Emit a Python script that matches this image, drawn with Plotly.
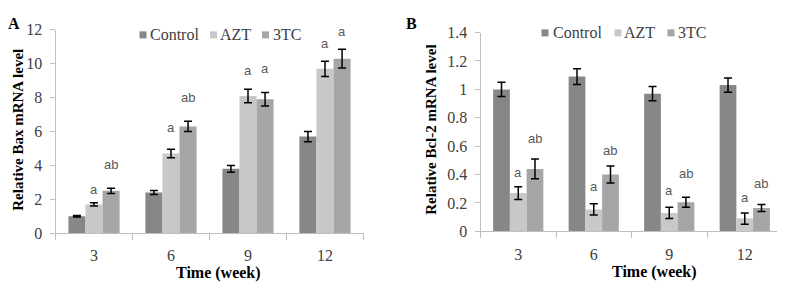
import plotly.graph_objects as go

weeks = ["3", "6", "9", "12"]
series = ["Control", "AZT", "3TC"]
colors = ["#878787", "#c8c8c8", "#a6a6a6"]

# Panel A: Bax
bax_control = [1.0, 2.4, 3.8, 5.7]
bax_control_err = [0.05, 0.12, 0.2, 0.3]
bax_azt = [1.7, 4.7, 8.1, 9.7]
bax_azt_err = [0.1, 0.25, 0.4, 0.45]
bax_3tc = [2.5, 6.3, 7.9, 10.3]
bax_3tc_err = [0.15, 0.3, 0.4, 0.55]
bax_azt_letters = ["a", "a", "a", "a"]
bax_azt_letter_y = [2.6, 6.25, 9.6, 11.2]
bax_3tc_letters = ["ab", "ab", "a", "a"]
bax_3tc_letter_y = [4.06, 8.0, 9.7, 11.9]

# Panel B: Bcl-2
bcl_control = [1.0, 1.09, 0.97, 1.03]
bcl_control_err = [0.05, 0.055, 0.05, 0.05]
bcl_azt = [0.27, 0.155, 0.13, 0.09]
bcl_azt_err = [0.045, 0.04, 0.04, 0.04]
bcl_3tc = [0.44, 0.40, 0.205, 0.165]
bcl_3tc_err = [0.07, 0.06, 0.035, 0.025]
bcl_azt_letters = ["a", "a", "a", "a"]
bcl_azt_letter_y = [0.417, 0.318, 0.288, 0.24]
bcl_3tc_letters = ["ab", "ab", "ab", "ab"]
bcl_3tc_letter_y = [0.655, 0.57, 0.41, 0.34]

W, H = 785, 283
# mapping from target picture pixels to figure pixels (page offset / vertical scale observed)
XOFF = 8.5
YSCALE, YOFF = 0.936, 16.2
BARGAP = 0.335

def sx(x):
    return x - XOFF

def sy(y):
    return (y - YOFF) / YSCALE

def px(x):
    return sx(x) / W

def py(y):
    return 1 - sy(y) / H

domA = [px(56), px(364)]
domB = [px(481), px(783)]
ydomA = [py(232.5), py(30)]
ydomB = [py(230.7), py(32.7)]

SERIF = "Liberation Serif"
SANS = "Liberation Sans"
AXC = "#bfbfbf"
TXT = "#404040"

fig = go.Figure()

def add_panel(vals, errs, xa, ya):
    for name, col, v, e in zip(series, colors, vals, errs):
        fig.add_trace(go.Bar(
            x=weeks, y=v, name=name, marker_color=col, marker_line_width=0,
            error_y=dict(type="data", array=e, color="black", thickness=1.5, width=4),
            xaxis=xa, yaxis=ya, showlegend=False,
        ))

add_panel([bax_control, bax_azt, bax_3tc], [bax_control_err, bax_azt_err, bax_3tc_err], "x", "y")
add_panel([bcl_control, bcl_azt, bcl_3tc], [bcl_control_err, bcl_azt_err, bcl_3tc_err], "x2", "y2")

def bar_px(dom):
    cat_px = (dom[1] - dom[0]) * W / len(weeks)
    return cat_px * (1 - BARGAP) / 3

def add_letters(letters, ys, xref, yref, shift):
    for i, (t, yv) in enumerate(zip(letters, ys)):
        fig.add_annotation(x=i, y=yv, text=t, xref=xref, yref=yref, showarrow=False,
                           xshift=shift, font=dict(family=SANS, size=13, color="#595959"))

add_letters(bax_azt_letters, bax_azt_letter_y, "x", "y", 0)
add_letters(bax_3tc_letters, bax_3tc_letter_y, "x", "y", bar_px(domA))
add_letters(bcl_azt_letters, bcl_azt_letter_y, "x2", "y2", 0)
add_letters(bcl_3tc_letters, bcl_3tc_letter_y, "x2", "y2", bar_px(domB))

# Legends (Excel-style compact: small square followed by name)
def add_legend(sq_x, txt_x, yc):
    for name, col, sqx, tx in zip(series, colors, sq_x, txt_x):
        fig.add_shape(type="rect", xref="paper", yref="paper",
                      x0=px(sqx), x1=px(sqx + 7), y0=py(yc + 3.5), y1=py(yc - 3.5),
                      fillcolor=col, line_width=0)
        fig.add_annotation(text=name, x=px(tx), y=py(yc), xref="paper", yref="paper",
                           xanchor="left", yanchor="middle", showarrow=False,
                           font=dict(family=SERIF, size=16, color=TXT))

add_legend([140, 210.5, 262.5], [148.5, 218.5, 271], 35)
add_legend([542, 615, 668], [551.5, 622.5, 676.5], 33)

xcommon = dict(type="category", range=[-0.5, len(weeks) - 0.5], showline=True, linecolor=AXC, linewidth=1,
               ticks="outside", tickson="boundaries", ticklen=6, tickcolor=AXC, tickangle=0,
               showgrid=False, zeroline=False, ticklabelstandoff=8,
               tickfont=dict(family=SERIF, size=16, color=TXT))
ycommon = dict(showline=True, linecolor=AXC, linewidth=1, ticks="outside", ticklen=5,
               tickcolor=AXC, showgrid=False, zeroline=False, ticklabelstandoff=4,
               tickfont=dict(family=SERIF, size=16, color=TXT))

fig.update_layout(
    width=W, height=H, margin=dict(l=0, r=0, t=0, b=0),
    plot_bgcolor="white", paper_bgcolor="white",
    font=dict(family=SERIF),
    barmode="group", bargap=BARGAP, bargroupgap=0, showlegend=False,
    xaxis=dict(domain=domA, anchor="y", **xcommon),
    yaxis=dict(domain=ydomA, anchor="x", range=[0, 12], dtick=2, **ycommon),
    xaxis2=dict(domain=domB, anchor="y2", **xcommon),
    yaxis2=dict(domain=ydomB, anchor="x2", range=[0, 1.4], dtick=0.2, **ycommon),
)

def ann(text, x, y, size, angle=0, min_svg_y=None):
    yy = py(y)
    if min_svg_y is not None and sy(y) < min_svg_y:
        yy = 1 - min_svg_y / H
    fig.add_annotation(text=text, x=px(x), y=yy, xref="paper", yref="paper",
                       showarrow=False, textangle=angle, xanchor="center", yanchor="middle",
                       borderpad=0,
                       font=dict(family=SERIF, size=size, color="black"))

ann("<b>A</b>", 14, 9, 16, min_svg_y=8)
ann("<b>B</b>", 412, 15, 16, min_svg_y=8)
ann("<b>Relative Bax mRNA level</b>", 19, 130, 15, -90)
ann("<b>Relative Bcl-2 mRNA level</b>", 432, 130, 15, -90)
ann("<b>Time (week)</b>", 219, 272, 16)
ann("<b>Time (week)</b>", 655, 271, 16)

fig.write_html("out.html")
